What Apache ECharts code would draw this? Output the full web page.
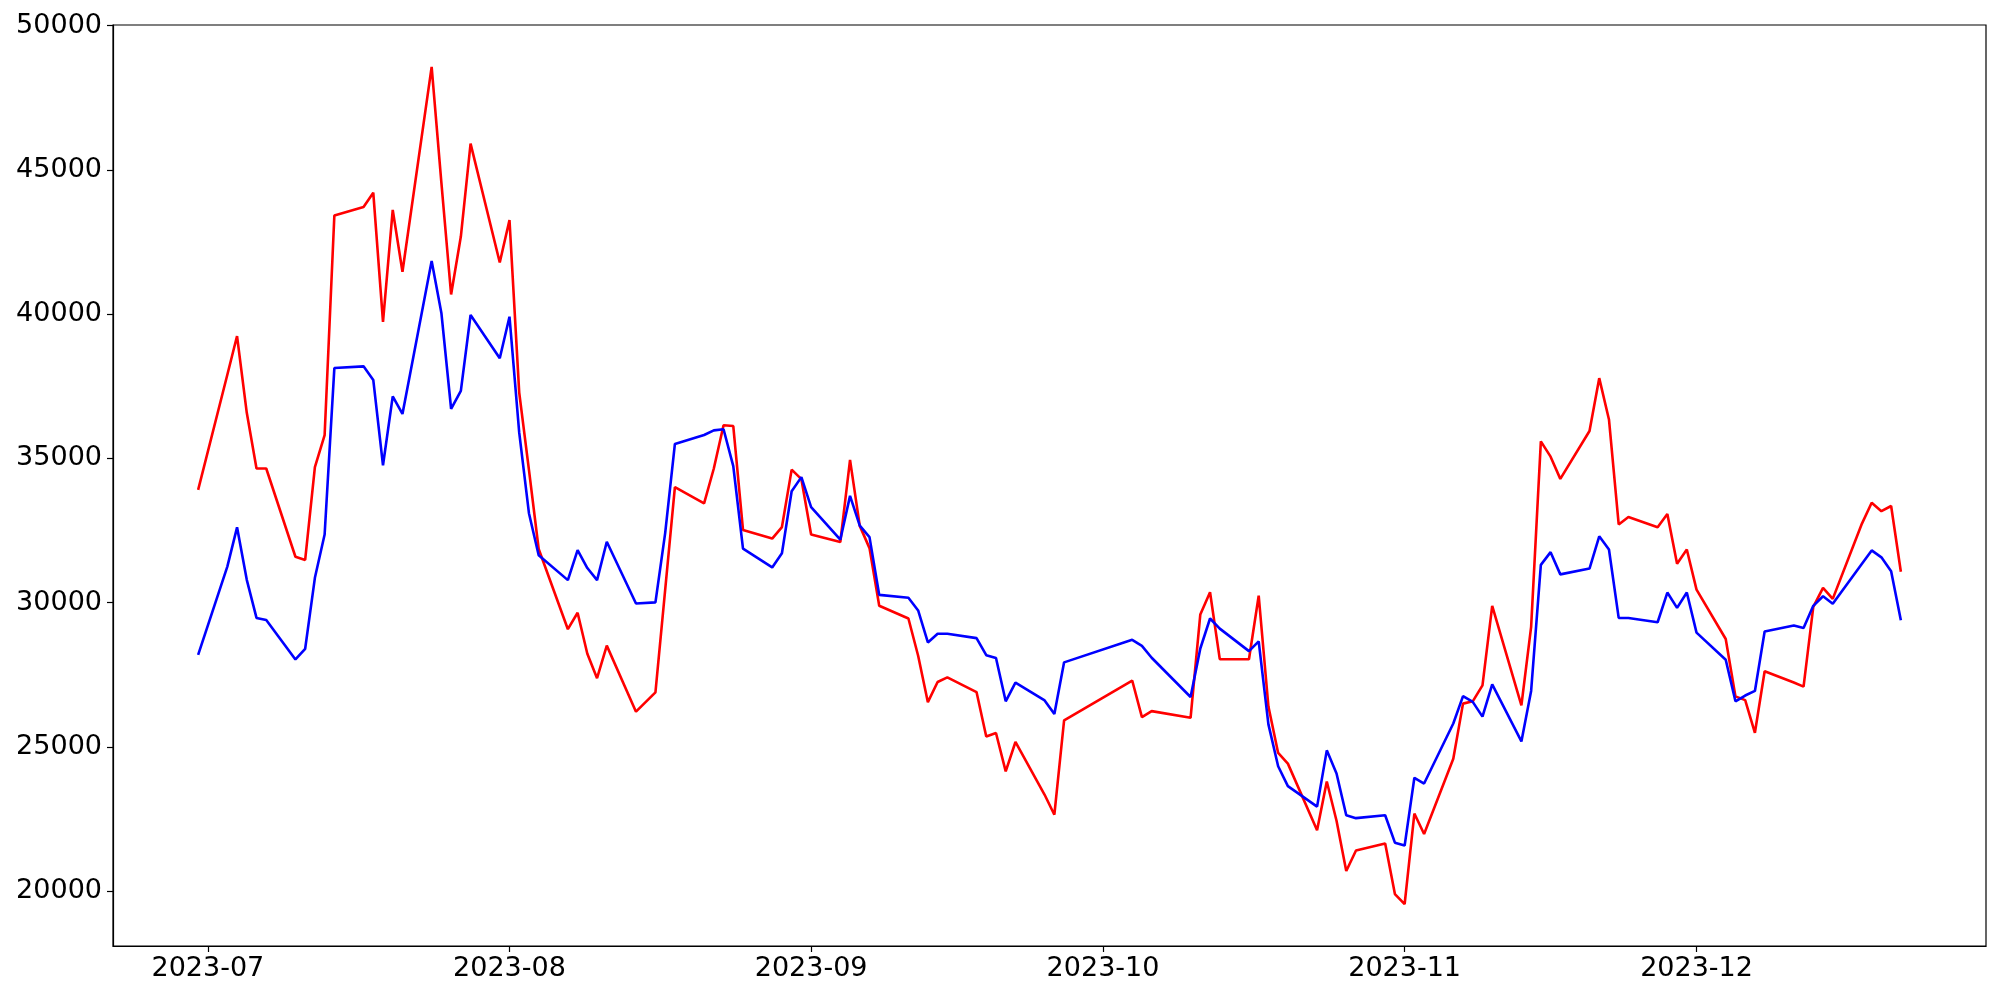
<!DOCTYPE html>
<html>
<head>
<meta charset="utf-8">
<script src="https://cdn.jsdelivr.net/npm/echarts@6/dist/echarts.min.js"></script>
<style>
html,body{margin:0;padding:0;background:#fff;}
#chart{width:2000px;height:1000px;}
</style>
</head>
<body>
<div id="chart"></div>
<script>
const dates = [
'2023-06-30','2023-07-03','2023-07-04','2023-07-05','2023-07-06','2023-07-07','2023-07-10','2023-07-11','2023-07-12','2023-07-13',
'2023-07-14','2023-07-17','2023-07-18','2023-07-19','2023-07-20','2023-07-21','2023-07-24','2023-07-25','2023-07-26','2023-07-27',
'2023-07-28','2023-07-31','2023-08-01','2023-08-02','2023-08-03','2023-08-04','2023-08-07','2023-08-08','2023-08-09','2023-08-10',
'2023-08-11','2023-08-14','2023-08-16','2023-08-17','2023-08-18','2023-08-21','2023-08-22','2023-08-23','2023-08-24','2023-08-25',
'2023-08-28','2023-08-29','2023-08-30','2023-08-31','2023-09-01','2023-09-04','2023-09-05','2023-09-06','2023-09-07','2023-09-08',
'2023-09-11','2023-09-12','2023-09-13','2023-09-14','2023-09-15','2023-09-18','2023-09-19','2023-09-20','2023-09-21','2023-09-22',
'2023-09-25','2023-09-26','2023-09-27','2023-10-04','2023-10-05','2023-10-06','2023-10-10','2023-10-11','2023-10-12','2023-10-13',
'2023-10-16','2023-10-17','2023-10-18','2023-10-19','2023-10-20','2023-10-23','2023-10-24','2023-10-25','2023-10-26','2023-10-27',
'2023-10-30','2023-10-31','2023-11-01','2023-11-02','2023-11-03','2023-11-06','2023-11-07','2023-11-08','2023-11-09','2023-11-10',
'2023-11-13','2023-11-14','2023-11-15','2023-11-16','2023-11-17','2023-11-20','2023-11-21','2023-11-22','2023-11-23','2023-11-24',
'2023-11-27','2023-11-28','2023-11-29','2023-11-30','2023-12-01','2023-12-04','2023-12-05','2023-12-06','2023-12-07','2023-12-08',
'2023-12-11','2023-12-12','2023-12-13','2023-12-14','2023-12-15','2023-12-18','2023-12-19','2023-12-20','2023-12-21','2023-12-22'
];

const redValues = [
33910,37900,39240,36580,34650,34650,31590,31480,34700,35810,
43420,43710,44210,39730,43610,41470,48570,44560,40680,42690,
45910,41790,43260,37280,34600,31860,29080,29650,28230,27380,
28510,26220,26890,30440,34000,33440,34650,36150,36120,32520,
32220,32620,34610,34280,32360,32100,34950,32660,31890,29890,
29450,28160,26550,27250,27410,26900,25360,25480,24150,25170,
23340,22650,25920,27300,26030,26240,26010,29590,30360,28040,
28040,30240,26400,24790,24420,22110,23800,22440,20700,21410,
21650,19900,19550,22690,21980,24590,26500,26580,27130,29890,
26440,29160,35590,35060,34290,35950,37780,36350,32710,32970,
32610,33070,31350,31840,30450,28740,26750,26620,25490,27620,
27230,27090,29850,30510,30130,32740,33460,33170,33350,31070
];

const blueValues = [
28190,31250,32610,30790,29470,29400,28030,28400,30860,32360,
38130,38190,37720,34760,37150,36540,41840,40040,36720,37340,
39970,38470,39910,35890,33100,31640,30780,31820,31200,30780,
32110,29970,30010,32410,35500,35810,35970,36010,34730,31870,
31220,31710,33860,34350,33310,32180,33700,32670,32270,30270,
30170,29730,28620,28920,28920,28770,28180,28080,26580,27230,
26610,26140,27930,28710,28500,28090,26730,28410,29450,29100,
28320,28660,25780,24330,23640,22930,24880,24080,22630,22530,
22630,21680,21580,23930,23730,25810,26760,26560,26050,27170,
25190,26940,31310,31750,30980,31180,32300,31840,29470,29470,
29320,30350,29820,30350,28960,28020,26580,26780,26940,29000,
29210,29120,29890,30220,29960,31350,31810,31570,31090,29390
];

const monthTicks = ['2023-07-01','2023-08-01','2023-09-01','2023-10-01','2023-11-01','2023-12-01'];
const yTicks = [20000, 25000, 30000, 35000, 40000, 45000, 50000];

function ts(s) {
  const p = s.split('-').map(Number);
  return Date.UTC(p[0], p[1] - 1, p[2]);
}
function fmtMonth(v) {
  const d = new Date(v);
  return d.getUTCFullYear() + '-' + String(d.getUTCMonth() + 1).padStart(2, '0');
}

const xFirst = ts(dates[0]);
const xLast = ts(dates[dates.length - 1]);
const xPad = (xLast - xFirst) * 0.05;

const allVals = redValues.concat(blueValues);
const yMinData = Math.min.apply(null, allVals);
const yMaxData = Math.max.apply(null, allVals);
const yPad = (yMaxData - yMinData) * 0.05;

const redData = dates.map((d, i) => [ts(d), redValues[i]]);
const blueData = dates.map((d, i) => [ts(d), blueValues[i]]);

const FONT = 'DejaVu Sans';
const chart = echarts.init(document.getElementById('chart'), null, {renderer: 'canvas'});
chart.setOption({
  animation: false,
  backgroundColor: '#ffffff',
  grid: {
    left: 113, right: 14, top: 25, bottom: 54,
    show: true, borderColor: '#000', borderWidth: 1.2, backgroundColor: 'transparent'
  },
  xAxis: {
    type: 'value',
    min: xFirst - xPad,
    max: xLast + xPad,
    splitLine: {show: false},
    axisLine: {show: true, onZero: false, lineStyle: {color: '#000', width: 1.2}},
    axisTick: {show: true, length: 6, lineStyle: {color: '#000', width: 1.2},
      customValues: monthTicks.map(ts)},
    axisLabel: {
      customValues: monthTicks.map(ts),
      formatter: fmtMonth,
      fontFamily: FONT, fontSize: 27, color: '#000', margin: 9
    }
  },
  yAxis: {
    type: 'value',
    min: yMinData - yPad,
    max: yMaxData + yPad,
    splitLine: {show: false},
    axisLine: {show: true, onZero: false, lineStyle: {color: '#000', width: 1.2}},
    axisTick: {show: true, length: 6, lineStyle: {color: '#000', width: 1.2},
      customValues: yTicks},
    axisLabel: {
      customValues: yTicks,
      formatter: function (v) { return String(Math.round(v)); },
      fontFamily: FONT, fontSize: 27, color: '#000', margin: 11
    }
  },
  series: [
    {
      type: 'line', data: redData, showSymbol: false, symbol: 'none',
      lineStyle: {color: '#ff0000', width: 2.6}, itemStyle: {color: '#ff0000'}
    },
    {
      type: 'line', data: blueData, showSymbol: false, symbol: 'none',
      lineStyle: {color: '#0000ff', width: 2.6}, itemStyle: {color: '#0000ff'}
    }
  ]
});
</script>
</body>
</html>
